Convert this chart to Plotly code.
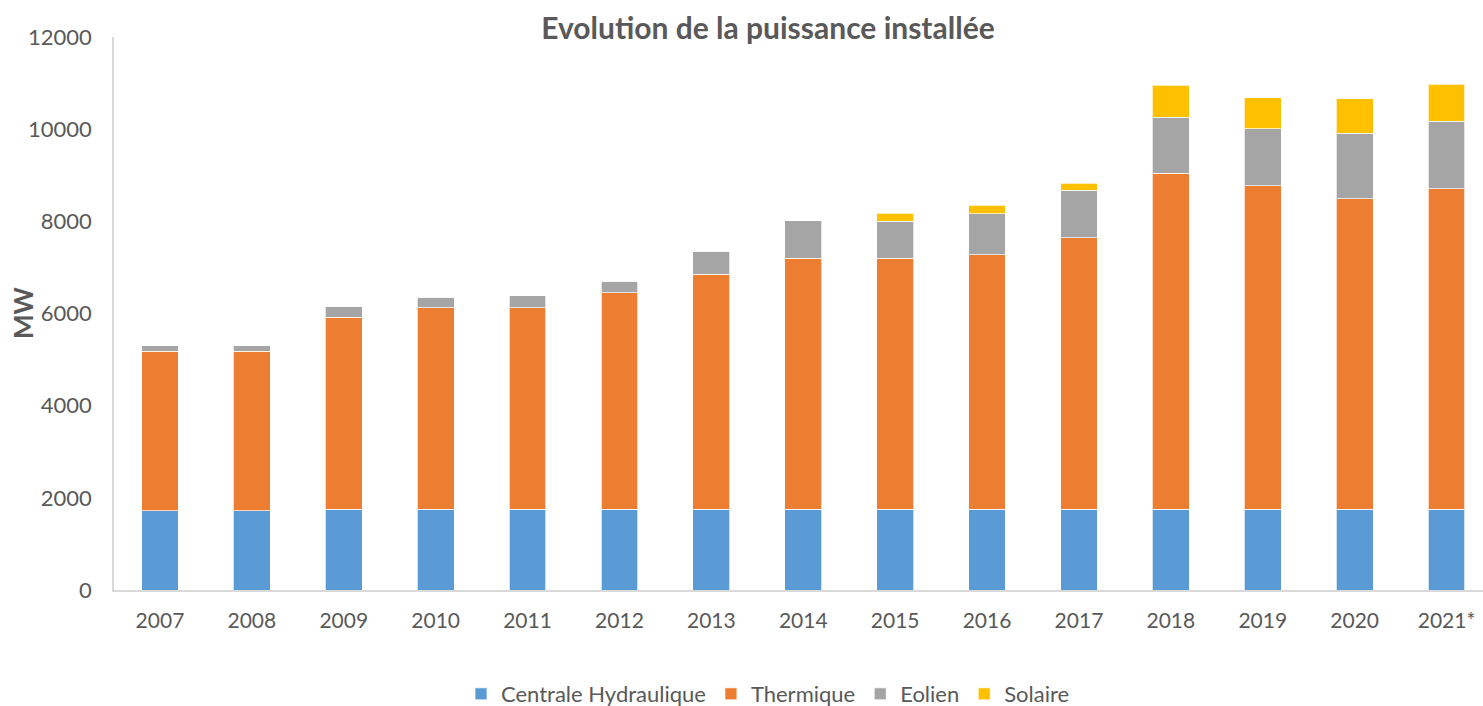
import plotly.graph_objects as go

years = ["2007", "2008", "2009", "2010", "2011", "2012", "2013", "2014",
         "2015", "2016", "2017", "2018", "2019", "2020", "2021*"]
hydraulique = [1715, 1715, 1755, 1755, 1755, 1755, 1755, 1755,
               1755, 1755, 1755, 1755, 1755, 1755, 1755]
thermique = [3470, 3470, 4165, 4375, 4375, 4695, 5100, 5445,
             5445, 5525, 5890, 7285, 7015, 6730, 6950]
eolien = [115, 115, 225, 225, 255, 255, 500, 810,
          805, 890, 1035, 1215, 1235, 1430, 1470]
solaire = [0, 0, 0, 0, 0, 0, 0, 0,
           175, 175, 150, 700, 680, 740, 800]
y_ticks = [0, 2000, 4000, 6000, 8000, 10000, 12000]

series = [
    ("Centrale Hydraulique", hydraulique, "#5B9BD5"),
    ("Thermique", thermique, "#ED7D31"),
    ("Eolien", eolien, "#A5A5A5"),
    ("Solaire", solaire, "#FFC000"),
]

W, H = 1483, 706
L, R, T, B = 114, 0, 37, 116
pw = W - L - R
ph = H - T - B

fig = go.Figure()
for name, vals, col in series:
    fig.add_trace(go.Bar(
        x=years, y=vals, name=name,
        marker=dict(color=col, line=dict(color="rgba(255,255,255,0.7)", width=1)),
        width=0.4,
    ))

txt = "#595959"
font = "Lato, Carlito, Calibri, sans-serif"

band = 91.9
right_val = -0.5 + pw / band

fig.update_layout(
    barmode="stack",
    width=W, height=H,
    margin=dict(l=L, r=R, t=T, b=B, pad=0, autoexpand=False),
    paper_bgcolor="white", plot_bgcolor="white",
    font=dict(family=font, color=txt, size=21),
    title=dict(text="<b>Evolution de la puissance installée</b>",
               x=768 / W, xref="container", xanchor="center",
               y=1 - 28 / H, yref="container", yanchor="middle",
               font=dict(size=30, color=txt, family=font)),
    xaxis=dict(type="category", range=[-0.5, right_val], automargin=False,
               showline=True, linecolor="#D9D9D9", linewidth=1.5,
               showgrid=False, ticks="", ticklabelstandoff=11,
               tickfont=dict(size=21, color=txt)),
    yaxis=dict(range=[0, 12000], tickvals=y_ticks,
               ticktext=[str(v) for v in y_ticks], automargin=False,
               showline=True, linecolor="#D9D9D9", linewidth=1.5,
               showgrid=False, ticks="", ticklabelstandoff=16, zeroline=False,
               tickfont=dict(size=22, color=txt)),
    legend=dict(orientation="h", x=(768 - L) / pw, xanchor="center",
                y=(T + ph - 694) / ph, yanchor="middle",
                font=dict(size=22, color=txt), traceorder="normal",
                itemclick=False),
    showlegend=True,
)

fig.add_annotation(text="<b>MW</b>", textangle=-90, xref="paper", yref="paper",
                   x=(23 - L) / pw, y=(T + ph - 313) / ph, showarrow=False,
                   xanchor="center", yanchor="middle",
                   font=dict(size=26, color=txt, family=font))

fig.write_html("out.html", config={"displayModeBar": False},
               post_script="document.body.style.margin='0';document.body.style.overflow='hidden';")
